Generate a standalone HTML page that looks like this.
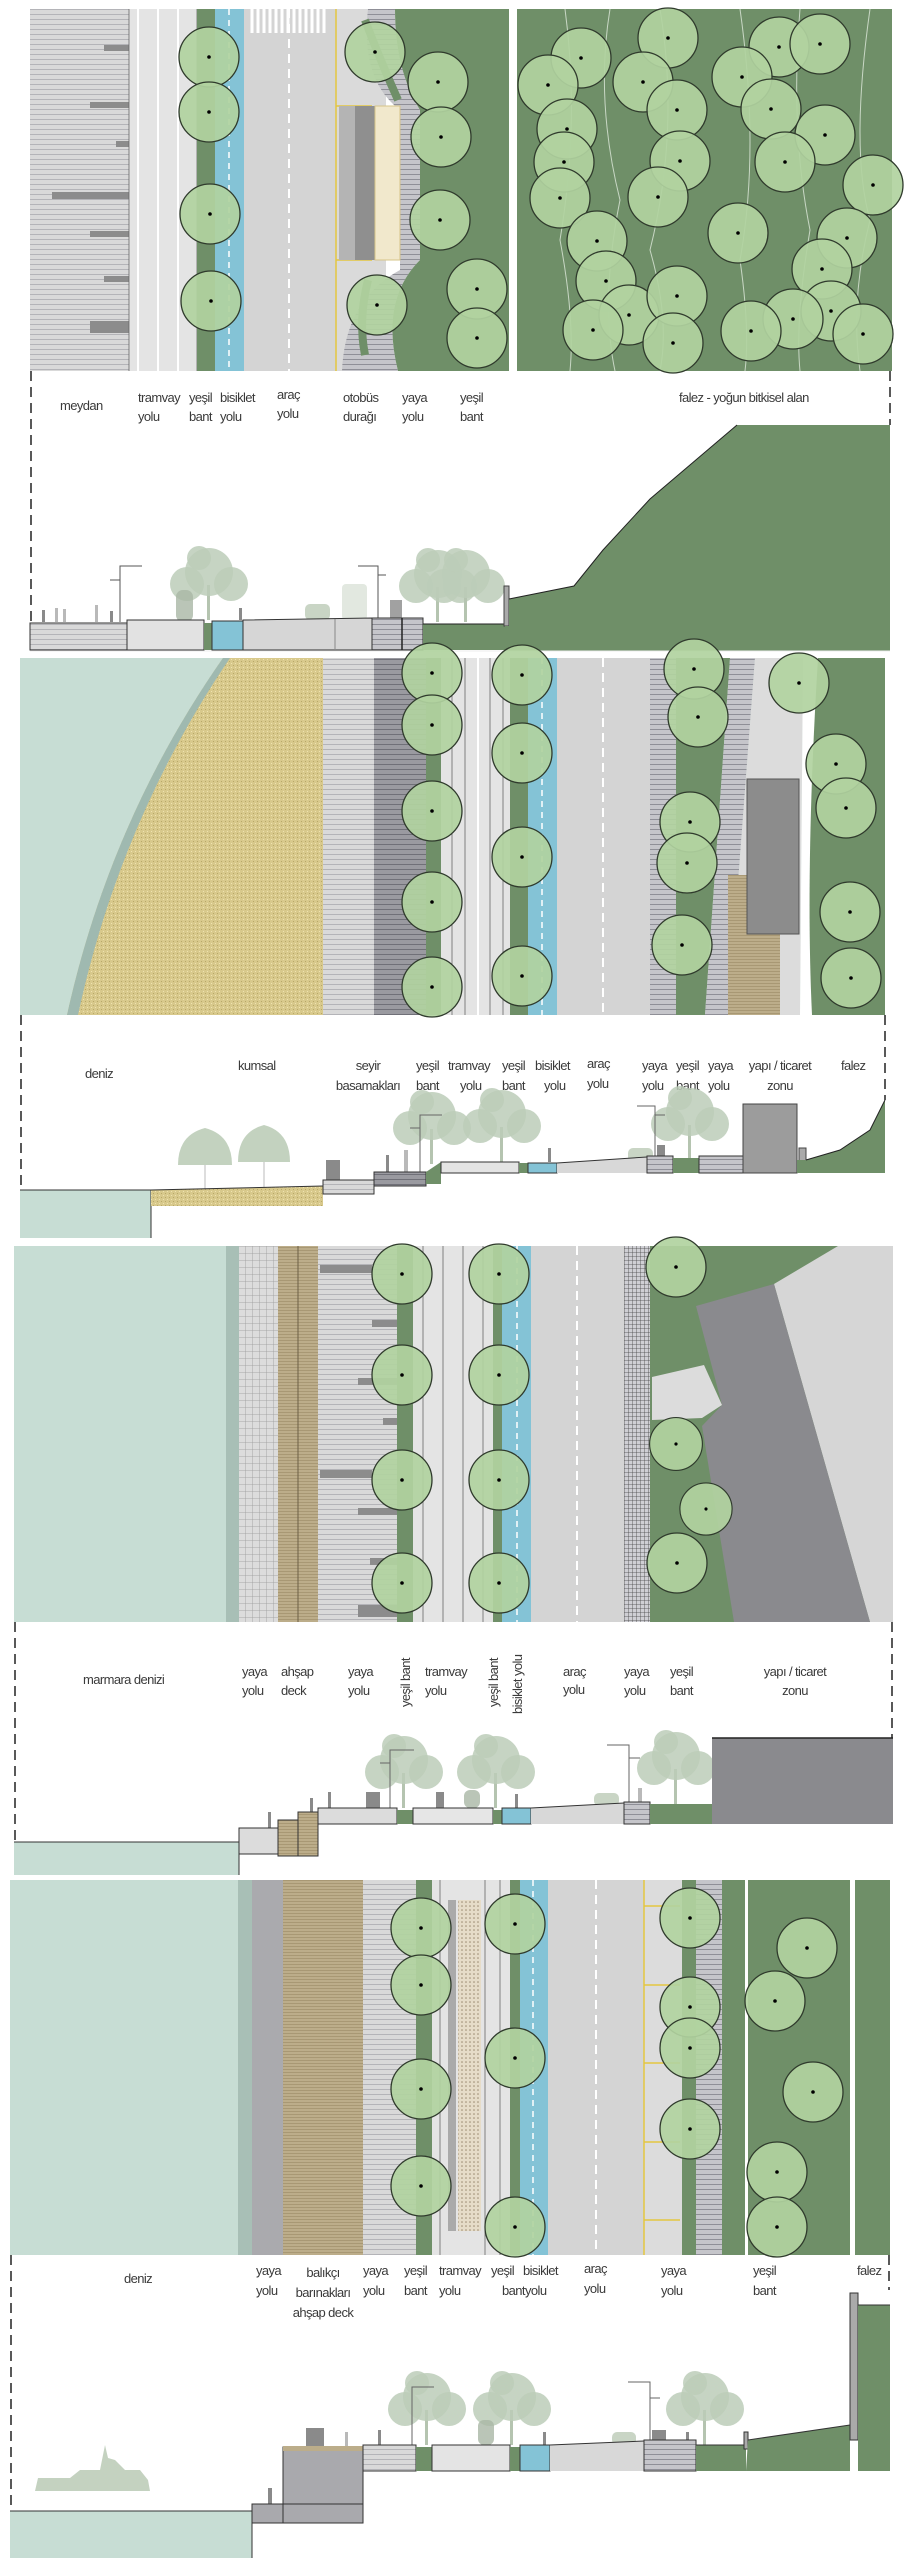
<!DOCTYPE html>
<html><head><meta charset="utf-8"><style>
html,body{margin:0;padding:0;background:#fff;width:905px;height:2560px;overflow:hidden}
svg{display:block}
text{font-family:"Liberation Sans",sans-serif;font-size:13px;fill:#3a3a3a;letter-spacing:-0.6px}
</style></head><body>
<svg width="905" height="2560" viewBox="0 0 905 2560" xmlns="http://www.w3.org/2000/svg">
<defs>
<pattern id="hs" width="6" height="5" patternUnits="userSpaceOnUse"><rect width="6" height="5" fill="#d9d9d9"/><rect y="4" width="6" height="1" fill="#b4b4b8"/></pattern>
<pattern id="hsd" width="6" height="5" patternUnits="userSpaceOnUse"><rect width="6" height="5" fill="#9a9aa0"/><rect y="4" width="6" height="1" fill="#707078"/></pattern>
<pattern id="hsm" width="6" height="5" patternUnits="userSpaceOnUse"><rect width="6" height="5" fill="#c5c5ca"/><rect y="4" width="6" height="1" fill="#8f8f97"/></pattern>
<pattern id="wood" width="6" height="3" patternUnits="userSpaceOnUse"><rect width="6" height="3" fill="#bcad8a"/><rect y="2" width="6" height="1" fill="#a89874"/></pattern>
<pattern id="grid" width="7" height="7" patternUnits="userSpaceOnUse"><rect width="7" height="7" fill="#dcdcdc"/><path d="M0 0H7M0 0V7" stroke="#999" stroke-width="0.8"/></pattern>
<pattern id="gridd" width="4" height="4" patternUnits="userSpaceOnUse"><rect width="4" height="4" fill="#cfcfd4"/><path d="M0 0H4M0 0V4" stroke="#444" stroke-width="0.8"/></pattern>
<pattern id="sand" width="4" height="4" patternUnits="userSpaceOnUse"><rect width="4" height="4" fill="#d8c98c"/><rect x="1" y="1" width="1" height="1" fill="#b8a868"/><rect x="3" y="3" width="1" height="1" fill="#efe3b0"/></pattern>
<pattern id="dots" width="4" height="4" patternUnits="userSpaceOnUse"><rect width="4" height="4" fill="#e6dcc8"/><circle cx="2" cy="2" r="0.8" fill="#9a8a70"/></pattern>
<g id="t"><circle r="30" fill="#b1d39f" fill-opacity="0.92" stroke="#2f3a2c" stroke-width="1.3"/><circle r="1.8" fill="#000"/></g>
<g id="st"><rect x="-2" y="-35" width="3" height="35" fill="#b5c4b0"/><circle cx="0" cy="-48" r="24" fill="#bccdb8" opacity=".85"/><circle cx="-22" cy="-36" r="17" fill="#bccdb8" opacity=".85"/><circle cx="22" cy="-36" r="17" fill="#bccdb8" opacity=".85"/><circle cx="-10" cy="-62" r="12" fill="#bccdb8" opacity=".85"/></g>
</defs>

<!-- ============ PANEL 1 ============ -->
<rect x="30" y="9" width="99" height="362" fill="url(#hs)"/>
<rect x="104" y="45" width="25" height="6" fill="#8c8c8c"/><rect x="90" y="102" width="39" height="6" fill="#8c8c8c"/><rect x="116" y="141" width="13" height="6" fill="#8c8c8c"/><rect x="52" y="192" width="77" height="7" fill="#8c8c8c"/><rect x="90" y="231" width="39" height="6" fill="#8c8c8c"/><rect x="104" y="276" width="25" height="6" fill="#8c8c8c"/><rect x="90" y="321" width="39" height="12" fill="#8c8c8c"/>
<rect x="129" y="9" width="68" height="362" fill="#e4e4e4"/>
<path d="M138 9V371M158 9V371M178 9V371" stroke="#fff" stroke-width="2"/>
<path d="M129 9V371M197 9V371" stroke="#666" stroke-width="0.8"/>
<rect x="197" y="9" width="18" height="362" fill="#6f8f68"/>
<rect x="215" y="9" width="29" height="362" fill="#84c3d6"/>
<path d="M229 9V371" stroke="#fff" stroke-width="1.5" stroke-dasharray="6 5"/>
<rect x="244" y="9" width="92" height="362" fill="#d4d4d4"/>
<path d="M289 9V371" stroke="#fff" stroke-width="2" stroke-dasharray="9 6"/>
<path d="M252 9V33M258 9V33M264 9V33M270 9V33M276 9V33M282 9V33M288 9V33M294 9V33M300 9V33M306 9V33M312 9V33M318 9V33M324 9V33" stroke="#fff" stroke-width="3"/>
<rect x="336" y="9" width="50" height="362" fill="#dadada"/>
<path d="M336 9V371" stroke="#e3c640" stroke-width="1.5"/>
<path d="M336 106H372M336 260H372" stroke="#e3c640" stroke-width="1.5"/>
<path d="M342 9 L368 9 Q360 80 400 110 L400 270 Q345 300 342 371 L398 371 Q380 300 420 260 L420 110 Q395 70 395 9Z" fill="url(#hsm)"/>
<rect x="339" y="106" width="36" height="154" fill="#b4b4b4"/><rect x="355" y="106" width="20" height="154" fill="#8f8f8f"/>
<rect x="375" y="106" width="25" height="154" fill="#f1e8cc" stroke="#d6c489" stroke-width="1"/>
<path d="M395 9 Q395 70 420 110 L420 260 Q380 300 398 371 L509 371 L509 9Z" fill="#6f8f68"/>
<path d="M365 20 Q380 60 398 100" stroke="#6f8f68" stroke-width="8" fill="none"/>
<path d="M368 280 Q358 320 365 355" stroke="#6f8f68" stroke-width="8" fill="none"/>
<use href="#t" x="209" y="57"/><use href="#t" x="209" y="112"/><use href="#t" x="210" y="214"/><use href="#t" x="211" y="301"/>
<use href="#t" x="375" y="52"/><use href="#t" x="438" y="82"/><use href="#t" x="441" y="137"/><use href="#t" x="440" y="220"/><use href="#t" x="377" y="305"/><use href="#t" x="477" y="289"/><use href="#t" x="477" y="338"/>
<rect x="517" y="9" width="375" height="362" fill="#6f8f68"/>
<g stroke="#dfe9dc" stroke-width="1" fill="none" opacity=".8"><path d="M565 9 Q580 120 560 240 Q575 320 570 371"/><path d="M610 9 Q595 100 620 200 Q600 300 615 371"/><path d="M660 9 Q680 130 650 250 Q670 320 660 371"/><path d="M740 9 Q760 150 740 260 Q750 330 745 371"/><path d="M800 9 Q790 130 810 230 Q795 320 800 371"/><path d="M870 9 Q850 150 870 220 Q850 300 860 371"/></g>
<g>
<use href="#t" x="581" y="58"/><use href="#t" x="548" y="85"/><use href="#t" x="567" y="129"/><use href="#t" x="564" y="162"/><use href="#t" x="560" y="198"/><use href="#t" x="597" y="241"/><use href="#t" x="606" y="281"/><use href="#t" x="629" y="315"/><use href="#t" x="593" y="330"/>
<use href="#t" x="668" y="38"/><use href="#t" x="643" y="82"/><use href="#t" x="677" y="110"/><use href="#t" x="680" y="161"/><use href="#t" x="658" y="197"/><use href="#t" x="677" y="296"/><use href="#t" x="673" y="343"/>
<use href="#t" x="779" y="47"/><use href="#t" x="820" y="44"/><use href="#t" x="742" y="77"/><use href="#t" x="771" y="109"/><use href="#t" x="825" y="135"/><use href="#t" x="785" y="162"/><use href="#t" x="873" y="185"/><use href="#t" x="738" y="233"/><use href="#t" x="847" y="238"/><use href="#t" x="822" y="269"/><use href="#t" x="831" y="311"/><use href="#t" x="793" y="319"/><use href="#t" x="751" y="331"/><use href="#t" x="863" y="334"/>
</g>
<path d="M31 371V651" stroke="#222" stroke-width="1.5" stroke-dasharray="10 6"/>
<path d="M890 371V425" stroke="#222" stroke-width="1.5" stroke-dasharray="10 6"/>
<text x="60" y="410">meydan</text>
<text x="138" y="402">tramvay</text><text x="138" y="421">yolu</text>
<text x="189" y="402">yeşil</text><text x="189" y="421">bant</text>
<text x="220" y="402">bisiklet</text><text x="220" y="421">yolu</text>
<text x="277" y="399">araç</text><text x="277" y="418">yolu</text>
<text x="343" y="402">otobüs</text><text x="343" y="421">durağı</text>
<text x="402" y="402">yaya</text><text x="402" y="421">yolu</text>
<text x="460" y="402">yeşil</text><text x="460" y="421">bant</text>
<text x="679" y="402">falez - yoğun bitkisel alan</text>
<use href="#st" x="209" y="620"/><use href="#st" x="438" y="622"/><use href="#st" x="466" y="622"/>
<rect x="176" y="590" width="17" height="32" rx="7" fill="#a9b7a5" opacity=".8"/>
<rect x="305" y="604" width="25" height="16" rx="5" fill="#c9d5c5"/><rect x="342" y="584" width="25" height="36" rx="4" fill="#e2e8e0"/>
<path d="M120 622V566H142M110 580H120" stroke="#555" fill="none"/><path d="M378 620V566H358M378 575H386" stroke="#555" fill="none"/>
<g fill="#8a8a8a"><rect x="42" y="610" width="3" height="12"/><rect x="55" y="608" width="3" height="14" opacity=".6"/><rect x="63" y="609" width="3" height="13" opacity=".6"/><rect x="95" y="605" width="3" height="17" opacity=".6"/><rect x="110" y="611" width="3" height="11"/><rect x="239" y="608" width="3" height="12"/><rect x="390" y="600" width="12" height="20" opacity=".8"/></g>
<rect x="30" y="623" width="97" height="27" fill="url(#hs)" stroke="#333"/>
<rect x="127" y="620" width="77" height="30" fill="#e2e2e2" stroke="#333"/>
<rect x="204" y="623" width="8" height="27" fill="#6f8f68"/>
<rect x="212" y="621" width="31" height="29" fill="#84c3d6" stroke="#333"/>
<path d="M243 620 L372 618 L372 650 L243 650Z" fill="#d6d6d6" stroke="#333"/>
<path d="M335 619V650" stroke="#888"/>
<rect x="372" y="618" width="51" height="32" fill="url(#hsm)" stroke="#333"/>
<path d="M402 618V650" stroke="#222" stroke-width="1.5"/>
<rect x="423" y="624" width="82" height="26" fill="#6f8f68"/>
<path d="M423 624H505" stroke="#222"/>
<rect x="504" y="586" width="5" height="40" fill="#aaa" stroke="#444"/>
<path d="M509 599 L574 586 L603 550 L650 499 L737 425 L890 425 L890 651 L505 651 L505 626 L509 626Z" fill="#6f8f68"/>
<path d="M509 599 L574 586 L603 550 L650 499 L737 425" stroke="#222" fill="none"/>
<path d="M30 651H890" stroke="#eee"/>

<!-- ============ PANEL 2 ============ -->
<rect x="20" y="658" width="865" height="357" fill="#c7ddd4"/>
<path d="M223 658 Q110 820 67 1015 L323 1015 L323 658Z" fill="url(#sand)"/>
<path d="M223 658 Q110 820 67 1015 L78 1015 Q120 820 230 658Z" fill="#9fb9b0"/>
<rect x="323" y="658" width="51" height="357" fill="url(#hs)"/>
<rect x="374" y="658" width="52" height="357" fill="url(#hsd)"/>
<rect x="426" y="658" width="15" height="357" fill="#6f8f68"/>
<rect x="441" y="658" width="69" height="357" fill="#e4e4e4"/>
<path d="M452 658V1015M465 658V1015M490 658V1015M503 658V1015" stroke="#666" stroke-width="0.8"/>
<path d="M478 658V1015" stroke="#fff" stroke-width="2"/>
<rect x="510" y="658" width="18" height="357" fill="#6f8f68"/>
<rect x="528" y="658" width="29" height="357" fill="#84c3d6"/>
<path d="M542 658V1015" stroke="#fff" stroke-width="1.5" stroke-dasharray="6 5"/>
<rect x="557" y="658" width="93" height="357" fill="#d4d4d4"/>
<path d="M603 658V1015" stroke="#fff" stroke-width="2" stroke-dasharray="9 6"/>
<rect x="650" y="658" width="26" height="357" fill="url(#hsm)"/>
<path d="M676 658 L730 658 L705 1015 L676 1015Z" fill="#6f8f68"/>
<path d="M730 658 L755 658 L728 1015 L705 1015Z" fill="url(#hsm)"/>
<path d="M755 658 L803 658 L800 1015 L728 1015Z" fill="#dcdcdc"/>
<rect x="728" y="875" width="52" height="140" fill="url(#wood)"/>
<rect x="747" y="779" width="52" height="155" fill="#8c8c8c" stroke="#555"/>
<path d="M803 658 L840 658 L812 1015 L800 1015Z" fill="#fff"/>
<path d="M818 658 L885 658 L885 1015 L812 1015 Q805 870 818 658Z" fill="#6f8f68"/>
<use href="#t" x="432" y="673"/><use href="#t" x="432" y="725"/><use href="#t" x="432" y="811"/><use href="#t" x="432" y="902"/><use href="#t" x="432" y="987"/>
<use href="#t" x="522" y="675"/><use href="#t" x="522" y="753"/><use href="#t" x="522" y="857"/><use href="#t" x="522" y="976"/>
<use href="#t" x="694" y="669"/><use href="#t" x="698" y="717"/><use href="#t" x="690" y="822"/><use href="#t" x="687" y="863"/><use href="#t" x="682" y="945"/>
<use href="#t" x="799" y="683"/><use href="#t" x="836" y="764"/><use href="#t" x="846" y="808"/><use href="#t" x="850" y="912"/><use href="#t" x="851" y="978"/>
<path d="M21 1015V1190" stroke="#222" stroke-width="1.5" stroke-dasharray="10 6"/>
<path d="M885 1015V1100" stroke="#222" stroke-width="1.5" stroke-dasharray="10 6"/>
<text x="85" y="1078">deniz</text>
<text x="238" y="1070">kumsal</text>
<text x="368" y="1070" text-anchor="middle">seyir</text><text x="368" y="1090" text-anchor="middle">basamakları</text>
<text x="416" y="1070">yeşil</text><text x="416" y="1090">bant</text>
<text x="448" y="1070">tramvay</text><text x="460" y="1090">yolu</text>
<text x="502" y="1070">yeşil</text><text x="502" y="1090">bant</text>
<text x="535" y="1070">bisiklet</text><text x="544" y="1090">yolu</text>
<text x="587" y="1068">araç</text><text x="587" y="1088">yolu</text>
<text x="642" y="1070">yaya</text><text x="642" y="1090">yolu</text>
<text x="676" y="1070">yeşil</text><text x="676" y="1090">bant</text>
<text x="708" y="1070">yaya</text><text x="708" y="1090">yolu</text>
<text x="780" y="1070" text-anchor="middle">yapı / ticaret</text><text x="780" y="1090" text-anchor="middle">zonu</text>
<text x="841" y="1070">falez</text>
<use href="#st" x="432" y="1164"/><use href="#st" x="502" y="1162"/><use href="#st" x="690" y="1160"/>
<g fill="#c3d2bf"><path d="M178 1165 Q178 1135 205 1128 Q232 1135 232 1165Z"/><path d="M238 1162 Q238 1132 264 1125 Q290 1132 290 1162Z"/></g>
<path d="M205 1165V1190M264 1162V1190" stroke="#bbb"/>
<rect x="628" y="1148" width="25" height="14" rx="5" fill="#c9d5c5"/>
<path d="M420 1172V1115H442M410 1128H420M655 1160V1106H637M655 1115H665" stroke="#666" fill="none"/>
<g fill="#8a8a8a"><rect x="326" y="1160" width="14" height="20"/><rect x="386" y="1155" width="3" height="17"/><rect x="404" y="1150" width="4" height="22" opacity=".6"/><rect x="548" y="1148" width="3" height="14"/><rect x="657" y="1145" width="8" height="14"/></g>
<rect x="20" y="1190" width="131" height="48" fill="#c7ddd4"/><path d="M20 1190H151V1238" stroke="#333" fill="none"/>
<path d="M151 1190 L323 1186 L323 1206 L151 1206Z" fill="url(#sand)"/><path d="M151 1190 L323 1186" stroke="#333"/>
<rect x="323" y="1180" width="51" height="14" fill="url(#hs)" stroke="#333"/>
<rect x="374" y="1172" width="52" height="14" fill="url(#hsd)" stroke="#333"/>
<path d="M426 1172 L441 1162 L441 1184 L426 1184Z" fill="#6f8f68"/>
<rect x="441" y="1162" width="78" height="11" fill="#e4e4e4" stroke="#333"/>
<rect x="519" y="1163" width="9" height="10" fill="#6f8f68"/>
<rect x="528" y="1163" width="29" height="10" fill="#84c3d6" stroke="#333"/>
<path d="M557 1163 L647 1157 L647 1173 L557 1173Z" fill="#d8d8d8"/><path d="M557 1163 L647 1157" stroke="#333"/>
<rect x="647" y="1156" width="26" height="17" fill="url(#hsm)" stroke="#333"/>
<rect x="673" y="1158" width="26" height="15" fill="#6f8f68"/>
<rect x="699" y="1156" width="44" height="17" fill="url(#hsm)" stroke="#333"/>
<rect x="743" y="1104" width="54" height="69" fill="#9c9c9c" stroke="#444"/>
<rect x="799" y="1148" width="7" height="20" fill="#aaa" stroke="#444"/>
<path d="M806 1160 L840 1150 L870 1130 L885 1100 L885 1173 L797 1173 L797 1160Z" fill="#6f8f68"/>
<path d="M806 1160 L840 1150 L870 1130 L885 1100" stroke="#222" fill="none"/>

<!-- ============ PANEL 3 ============ -->
<rect x="14" y="1246" width="225" height="376" fill="#c7ddd4"/>
<rect x="226" y="1246" width="13" height="376" fill="#a8bfb6"/>
<rect x="239" y="1246" width="39" height="376" fill="url(#grid)"/>
<rect x="278" y="1246" width="40" height="376" fill="url(#wood)"/><path d="M298 1246V1622" stroke="#6b5f45"/>
<rect x="318" y="1246" width="79" height="376" fill="url(#hs)"/>
<g fill="#8c8c8c"><rect x="320" y="1265" width="52" height="8"/><rect x="372" y="1320" width="25" height="7"/><rect x="358" y="1378" width="39" height="7"/><rect x="383" y="1418" width="14" height="7"/><rect x="320" y="1470" width="52" height="8"/><rect x="358" y="1508" width="39" height="7"/><rect x="370" y="1558" width="27" height="7"/><rect x="358" y="1605" width="39" height="12"/></g>
<rect x="397" y="1246" width="16" height="376" fill="#6f8f68"/>
<rect x="413" y="1246" width="80" height="376" fill="#e4e4e4"/>
<path d="M423 1246V1622M443 1246V1622M463 1246V1622M483 1246V1622" stroke="#666" stroke-width="0.8"/>
<rect x="493" y="1246" width="9" height="376" fill="#6f8f68"/>
<rect x="502" y="1246" width="29" height="376" fill="#84c3d6"/>
<path d="M517 1246V1622" stroke="#fff" stroke-width="1.5" stroke-dasharray="6 5"/>
<rect x="531" y="1246" width="93" height="376" fill="#d4d4d4"/>
<path d="M577 1246V1622" stroke="#fff" stroke-width="2" stroke-dasharray="9 6"/>
<rect x="624" y="1246" width="26" height="376" fill="url(#gridd)"/>
<rect x="650" y="1246" width="243" height="376" fill="#6f8f68"/>
<path d="M838 1246 L893 1246 L893 1622 L870 1622 L774 1284Z" fill="#d6d6d6"/>
<path d="M696 1306 L774 1284 L870 1622 L734 1622 L702 1426 L722 1405Z" fill="#8a8a8e"/>
<path d="M652 1377 L704 1365 L722 1405 L702 1418 L652 1420Z" fill="#dcdcdc"/>
<use href="#t" x="402" y="1274"/><use href="#t" x="402" y="1375"/><use href="#t" x="402" y="1480"/><use href="#t" x="402" y="1583"/>
<use href="#t" x="499" y="1274"/><use href="#t" x="499" y="1375"/><use href="#t" x="499" y="1480"/><use href="#t" x="499" y="1583"/>
<use href="#t" x="676" y="1267"/>
<g transform="translate(676 1444) scale(.88)"><use href="#t"/></g>
<g transform="translate(706 1509) scale(.87)"><use href="#t"/></g>
<use href="#t" x="677" y="1563"/>
<path d="M15 1622V1842" stroke="#222" stroke-width="1.5" stroke-dasharray="10 6"/>
<path d="M892 1622V1738" stroke="#222" stroke-width="1.5" stroke-dasharray="10 6"/>
<text x="83" y="1684">marmara denizi</text>
<text x="242" y="1676">yaya</text><text x="242" y="1695">yolu</text>
<text x="281" y="1676">ahşap</text><text x="281" y="1695">deck</text>
<text x="348" y="1676">yaya</text><text x="348" y="1695">yolu</text>
<text transform="translate(410 1707) rotate(-90)">yeşil bant</text>
<text x="425" y="1676">tramvay</text><text x="425" y="1695">yolu</text>
<text transform="translate(498 1707) rotate(-90)">yeşil bant</text>
<text transform="translate(522 1714) rotate(-90)">bisiklet yolu</text>
<text x="563" y="1676">araç</text><text x="563" y="1694">yolu</text>
<text x="624" y="1676">yaya</text><text x="624" y="1695">yolu</text>
<text x="670" y="1676">yeşil</text><text x="670" y="1695">bant</text>
<text x="795" y="1676" text-anchor="middle">yapı / ticaret</text><text x="795" y="1695" text-anchor="middle">zonu</text>
<use href="#st" x="404" y="1808"/><use href="#st" x="496" y="1808"/><use href="#st" x="676" y="1804"/>
<rect x="464" y="1790" width="16" height="18" rx="6" fill="#a9b7a5" opacity=".8"/>
<rect x="594" y="1793" width="25" height="13" rx="5" fill="#c9d5c5"/>
<path d="M390 1808V1750H414M380 1763H390M629 1802V1745H607M629 1758H640" stroke="#666" fill="none"/>
<g fill="#8a8a8a"><rect x="268" y="1812" width="3" height="16"/><rect x="310" y="1798" width="3" height="17"/><rect x="328" y="1792" width="3" height="16"/><rect x="366" y="1792" width="14" height="16"/><rect x="436" y="1792" width="8" height="16"/><rect x="515" y="1794" width="3" height="14"/><rect x="638" y="1788" width="4" height="14" opacity=".6"/></g>
<rect x="14" y="1842" width="225" height="33" fill="#c7ddd4"/><path d="M14 1842H239V1875" stroke="#333" fill="none"/>
<rect x="239" y="1828" width="39" height="26" fill="#dcdcdc" stroke="#333"/>
<rect x="278" y="1820" width="20" height="36" fill="url(#wood)" stroke="#333"/>
<rect x="298" y="1812" width="20" height="44" fill="url(#wood)" stroke="#333"/>
<rect x="318" y="1808" width="79" height="16" fill="#dcdcdc" stroke="#333"/>
<rect x="397" y="1810" width="16" height="14" fill="#6f8f68"/>
<rect x="413" y="1808" width="80" height="16" fill="#e6e6e6" stroke="#333"/>
<rect x="493" y="1810" width="9" height="14" fill="#6f8f68"/>
<rect x="502" y="1808" width="29" height="16" fill="#84c3d6" stroke="#333"/>
<path d="M531 1808 L624 1803 L624 1824 L531 1824Z" fill="#d8d8d8"/><path d="M531 1808 L624 1803" stroke="#333"/>
<rect x="624" y="1802" width="26" height="22" fill="url(#hsm)" stroke="#333"/>
<rect x="650" y="1804" width="62" height="20" fill="#6f8f68"/>
<rect x="712" y="1738" width="181" height="86" fill="#8a8a8e"/><path d="M712 1738H893" stroke="#222" stroke-width="1.5"/>

<!-- ============ PANEL 4 ============ -->
<rect x="10" y="1880" width="228" height="375" fill="#c7ddd4"/>
<rect x="238" y="1880" width="14" height="375" fill="#a8bfb6"/>
<rect x="252" y="1880" width="31" height="375" fill="#aaaaae"/>
<rect x="283" y="1880" width="80" height="375" fill="url(#wood)"/>
<rect x="363" y="1880" width="53" height="375" fill="url(#hs)"/>
<rect x="416" y="1880" width="16" height="375" fill="#6f8f68"/>
<rect x="432" y="1880" width="78" height="375" fill="#e4e4e4"/>
<rect x="448" y="1900" width="8" height="331" fill="#aaa"/>
<rect x="458" y="1900" width="23" height="331" fill="url(#dots)"/>
<path d="M440 1880V2255M485 1880V2255M500 1880V2255" stroke="#666" stroke-width="0.8"/>
<rect x="510" y="1880" width="10" height="375" fill="#6f8f68"/>
<rect x="520" y="1880" width="28" height="375" fill="#84c3d6"/>
<path d="M533 1880V2255" stroke="#fff" stroke-width="1.5" stroke-dasharray="6 5"/>
<rect x="548" y="1880" width="96" height="375" fill="#d4d4d4"/>
<path d="M596 1880V2255" stroke="#fff" stroke-width="2" stroke-dasharray="9 6"/>
<rect x="644" y="1880" width="38" height="375" fill="#dcdcdc"/>
<path d="M644 1880V2255" stroke="#e3c640" stroke-width="1.5"/>
<path d="M644 1906H680M644 1985H680M644 2063H680M644 2142H680M644 2220H680" stroke="#e3c640" stroke-width="1.5"/>
<rect x="682" y="1880" width="14" height="375" fill="#6f8f68"/>
<rect x="696" y="1880" width="26" height="375" fill="url(#hsm)"/>
<rect x="722" y="1880" width="23" height="375" fill="#6f8f68"/>
<rect x="748" y="1880" width="102" height="375" fill="#6f8f68"/>
<rect x="855" y="1880" width="35" height="375" fill="#6f8f68"/>
<use href="#t" x="421" y="1928"/><use href="#t" x="421" y="1985"/><use href="#t" x="421" y="2089"/><use href="#t" x="421" y="2186"/>
<use href="#t" x="515" y="1924"/><use href="#t" x="515" y="2058"/><use href="#t" x="515" y="2227"/>
<use href="#t" x="690" y="1918"/><use href="#t" x="690" y="2007"/><use href="#t" x="690" y="2048"/><use href="#t" x="690" y="2129"/>
<use href="#t" x="807" y="1948"/><use href="#t" x="775" y="2001"/><use href="#t" x="813" y="2092"/><use href="#t" x="777" y="2172"/><use href="#t" x="777" y="2227"/>
<path d="M11 2255V2511" stroke="#222" stroke-width="1.5" stroke-dasharray="10 6"/>
<path d="M889 2255V2290" stroke="#222" stroke-width="1.5" stroke-dasharray="10 6"/>
<text x="124" y="2283">deniz</text>
<text x="256" y="2275">yaya</text><text x="256" y="2295">yolu</text>
<text x="323" y="2277" text-anchor="middle">balıkçı</text><text x="323" y="2297" text-anchor="middle">barınakları</text><text x="323" y="2317" text-anchor="middle">ahşap deck</text>
<text x="363" y="2275">yaya</text><text x="363" y="2295">yolu</text>
<text x="404" y="2275">yeşil</text><text x="404" y="2295">bant</text>
<text x="439" y="2275">tramvay</text><text x="439" y="2295">yolu</text>
<text x="491" y="2275">yeşil</text><text x="502" y="2295">bant</text>
<text x="523" y="2275">bisiklet</text><text x="525" y="2295">yolu</text>
<text x="584" y="2273">araç</text><text x="584" y="2293">yolu</text>
<text x="661" y="2275">yaya</text><text x="661" y="2295">yolu</text>
<text x="753" y="2275">yeşil</text><text x="753" y="2295">bant</text>
<text x="857" y="2275">falez</text>
<use href="#st" x="427" y="2445"/><use href="#st" x="512" y="2445"/><use href="#st" x="705" y="2445"/>
<rect x="478" y="2420" width="16" height="25" rx="6" fill="#a9b7a5" opacity=".8"/>
<rect x="612" y="2432" width="24" height="13" rx="5" fill="#c9d5c5"/>
<path d="M412 2447V2387H434M650 2445V2382H628M650 2398H660" stroke="#666" fill="none"/>
<path d="M35 2491 L150 2491 L148 2480 L140 2470 L125 2470 L115 2460 L108 2458 L105 2445 L100 2470 L80 2470 L70 2478 L38 2478Z" fill="#c4d2c0"/>
<g fill="#8a8a8a"><rect x="268" y="2488" width="4" height="16"/><rect x="306" y="2428" width="18" height="18"/><rect x="345" y="2432" width="3" height="14" opacity=".6"/><rect x="378" y="2430" width="3" height="15"/><rect x="543" y="2432" width="3" height="13"/><rect x="652" y="2430" width="14" height="15"/><rect x="686" y="2432" width="3" height="13"/></g>
<rect x="10" y="2511" width="242" height="47" fill="#c7ddd4"/><path d="M10 2511H252V2558" stroke="#333" fill="none"/>
<rect x="252" y="2504" width="31" height="19" fill="#a9a9ad" stroke="#333"/>
<rect x="283" y="2447" width="80" height="76" fill="#a9a9ad" stroke="#333"/>
<path d="M283 2504H363" stroke="#333"/>
<rect x="283" y="2446" width="80" height="5" fill="#bcad8a"/>
<rect x="363" y="2445" width="53" height="26" fill="url(#hs)" stroke="#333"/>
<rect x="416" y="2447" width="16" height="24" fill="#6f8f68"/>
<rect x="432" y="2445" width="78" height="26" fill="#e4e4e4" stroke="#333"/>
<rect x="510" y="2447" width="10" height="24" fill="#6f8f68"/>
<rect x="520" y="2445" width="30" height="26" fill="#84c3d6" stroke="#333"/>
<path d="M550 2445 L644 2441 L644 2471 L550 2471Z" fill="#d8d8d8"/><path d="M550 2445 L644 2441" stroke="#333"/>
<rect x="644" y="2440" width="52" height="31" fill="url(#hsm)" stroke="#333"/>
<rect x="696" y="2445" width="50" height="26" fill="#6f8f68"/><path d="M696 2445H746" stroke="#333"/>
<rect x="744" y="2432" width="4" height="17" fill="#aaa" stroke="#333"/>
<path d="M748 2440 L850 2425 L850 2471 L746 2471Z" fill="#6f8f68"/><path d="M748 2440 L850 2425" stroke="#333"/>
<rect x="850" y="2293" width="8" height="147" fill="#aaa" stroke="#333"/>
<rect x="858" y="2305" width="32" height="166" fill="#6f8f68"/><path d="M858 2305H890" stroke="#333"/>
</svg>
</body></html>
